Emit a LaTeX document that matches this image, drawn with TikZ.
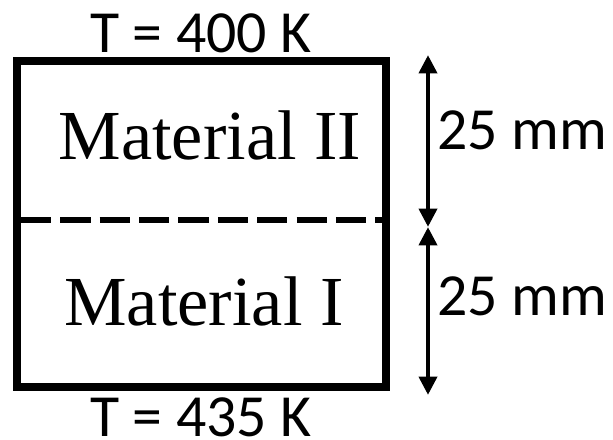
\documentclass[tikz,border=0pt]{standalone}
\usepackage{fontspec}
\setmainfont{Liberation Serif}
\newfontfamily\labelfont{Carlito}
\usetikzlibrary{arrows.meta}

\begin{document}
\begin{tikzpicture}[x=0.025cm, y=-0.025cm,
    matlabel/.style={inner sep=0pt, anchor=base, font=\fontsize{50}{50}\selectfont},
    sidelabel/.style={inner sep=0pt, font=\labelfont\fontsize{42.5}{42.5}\selectfont},
    dimarrow/.style={line width=3.5pt, {Triangle[length=13pt,width=12.5pt]}-{Triangle[length=13pt,width=12.5pt]}}]
    \useasboundingbox (0,0) rectangle (613,440);

    % Draw slab
    \draw[line width=5.7pt] (17,61) rectangle (386,387);
    \draw[line width=4.3pt, dash pattern=on 21.5pt off 6.5pt] (21,220) -- (382,220);

    % Labels
    \node[matlabel] (matII) at (210,160) {Material II};
    \node[matlabel] (matI) at (204,325) {Material I};

    % Boundary temperatures
    \node[sidelabel, anchor=base] (ttop) at (201,53) {T = 400 K};
    \node[sidelabel, anchor=base] (tbot) at (201,436) {T = 435 K};

    % Thickness arrows
    \coordinate (dtop) at (428,55);
    \coordinate (dmid) at (428,227);
    \coordinate (dbot) at (428,395);
    \draw[dimarrow] (dtop) -- (dmid);
    \draw[dimarrow] (dmid) -- (dbot);
    \node[sidelabel, anchor=base west] (thkII) at (437,150) {25 mm};
    \node[sidelabel, anchor=base west] (thkI) at (437,315) {25 mm};
\end{tikzpicture}
\end{document}
